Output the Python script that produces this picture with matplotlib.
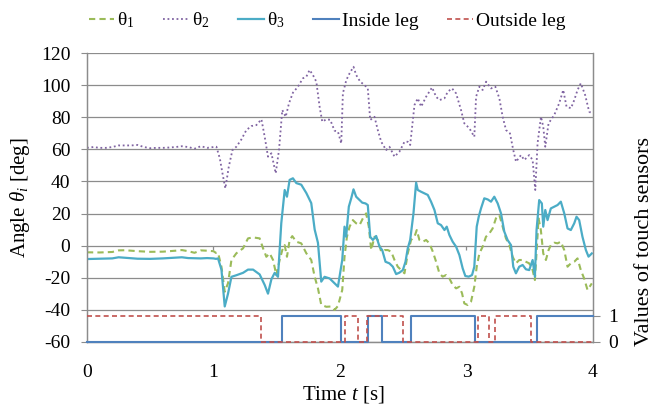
import matplotlib
matplotlib.use("Agg")
import matplotlib.pyplot as plt

plt.rcParams['font.family'] = ['Liberation Serif', 'DejaVu Serif']
plt.rcParams['mathtext.fontset'] = 'custom'
plt.rcParams['mathtext.rm'] = 'Liberation Serif'
plt.rcParams['mathtext.it'] = 'Liberation Serif:italic'
plt.rcParams['axes.unicode_minus'] = False

# Joint angles
t1 = [0, 0.1, 0.2, 0.25, 0.3, 0.35, 0.4, 0.5, 0.6, 0.7, 0.75, 0.8, 0.85, 0.9, 0.95, 1.0, 1.02,
      1.036, 1.063, 1.089, 1.115, 1.142, 1.181, 1.234, 1.273, 1.313, 1.365, 1.392, 1.418, 1.444,
      1.471, 1.497, 1.523, 1.544, 1.563, 1.581, 1.602, 1.623, 1.655, 1.694, 1.734, 1.773, 1.8,
      1.826, 1.852, 1.892, 1.931, 1.957, 1.984, 2.018, 2.036, 2.055, 2.076, 2.102, 2.128, 2.155,
      2.181, 2.207, 2.228, 2.247, 2.273, 2.299, 2.326, 2.352, 2.378, 2.405, 2.431, 2.457, 2.484,
      2.51, 2.536, 2.562, 2.589, 2.607, 2.628, 2.655, 2.681, 2.707, 2.734, 2.76, 2.786, 2.812,
      2.839, 2.865, 2.891, 2.918, 2.944, 2.965, 2.983, 3.01, 3.036, 3.062, 3.081, 3.102, 3.128,
      3.154, 3.181, 3.207, 3.233, 3.26, 3.286, 3.312, 3.339, 3.365, 3.391, 3.417, 3.444, 3.47,
      3.496, 3.523, 3.541, 3.557, 3.57, 3.588, 3.607, 3.628, 3.649, 3.667, 3.694, 3.72, 3.746,
      3.773, 3.799, 3.825, 3.852, 3.878, 3.904, 3.93, 3.957, 3.991]
theta1 = [-4.2, -4.3, -4.0, -3.0, -2.9, -3.2, -3.5, -3.9, -3.8, -3.2, -2.8, -3.5, -4.5, -3.0, -3.2,
          -3.5, -4.6, -4.5, -13.2, -28.8, -23.5, -9, -4.8, -1.7, 4.5, 5.1, 4.5, -1.7, -7, -4.8, -9,
          -18.4, -9, -2.8, 0.3, -7, 3.4, 5.9, 2.4, 1.4, -4.8, -9, -19.5, -26.7, -37, -38.2, -38,
          -40.2, -37.7, -27.7, -7, 5.5, 11.8, 15.9, 13.9, 12.8, 17, 20.1, 11.8, -2.8, 5.5, 3.5,
          -3.8, -2.8, -2.8, -3.8, -9, -13.2, -15.3, -17.3, -4.9, 3.5, 5.5, 9.7, 3.5, 2.4, 3.5, 1.4,
          -3.8, -10.1, -17.3, -19.4, -18.4, -20.5, -24.6, -26.7, -25.7, -29.8, -36.1, -37.1, -35,
          -25.7, -13.2, -4.9, -0.7, 5.5, 7.6, 10.7, 17, 19.1, 11.8, 4.5, 0.3, -7, -11.1, -9, -9,
          -10.1, -11.1, -15.3, -21.5, -0.7, 17, 9.7, -4.9, -9, -2.8, 0.3, 1.8, 1.4, 2.4, -2.8,
          -13.2, -11.1, -10.1, -8, -15.3, -20.5, -27.7, -23.6]

t2 = [0, 0.05, 0.1, 0.15, 0.2, 0.25, 0.3, 0.35, 0.4, 0.45, 0.5, 0.55, 0.6, 0.65, 0.7, 0.75, 0.8,
      0.85, 0.9, 0.95, 1.0, 1.023, 1.05, 1.076, 1.094, 1.121, 1.15, 1.181, 1.221, 1.26, 1.3, 1.339,
      1.379, 1.405, 1.431, 1.458, 1.492, 1.518, 1.544, 1.571, 1.597, 1.628, 1.668, 1.707, 1.734,
      1.76, 1.786, 1.813, 1.839, 1.86, 1.892, 1.923, 1.957, 1.984, 2.01, 2.023, 2.05, 2.076, 2.107,
      2.128, 2.16, 2.194, 2.22, 2.239, 2.273, 2.299, 2.326, 2.365, 2.391, 2.431, 2.47, 2.51, 2.536,
      2.555, 2.589, 2.615, 2.642, 2.681, 2.728, 2.76, 2.786, 2.826, 2.852, 2.886, 2.918, 2.957,
      2.983, 3.023, 3.062, 3.076, 3.102, 3.128, 3.155, 3.194, 3.228, 3.26, 3.286, 3.313, 3.344,
      3.37, 3.392, 3.431, 3.457, 3.496, 3.523, 3.544, 3.562, 3.589, 3.607, 3.623, 3.649, 3.694,
      3.733, 3.765, 3.791, 3.826, 3.852, 3.878, 3.904, 3.938, 3.97, 3.991]
theta2 = [61, 61.5, 61, 61, 61.5, 62.5, 62.5, 62.5, 62.8, 61.5, 60.8, 61, 61, 61.2, 61.5, 62, 61.5,
          60.5, 62, 61, 61.5, 61.7, 54.5, 43, 35.7, 49.2, 59.6, 61.7, 66.3, 72.1, 74.6, 75.2, 78.8,
          67.9, 55.5, 57.6, 45.1, 59.6, 84.6, 80.4, 88.8, 95.4, 99.2, 104.4, 105.4, 109.6, 106.5,
          102.3, 86.7, 77.3, 78.8, 78.5, 71.7, 71.1, 63.8, 95, 103.3, 107.5, 111.6, 106.5, 102.3,
          100.2, 98.1, 78.4, 80.4, 72.1, 64.8, 59.6, 61.7, 55.5, 58.6, 64.8, 64.8, 62.8, 87.7,
          91.9, 86.7, 92.9, 98.7, 92.9, 90.8, 91.9, 96, 98.1, 95, 84.6, 76.3, 73.2, 67.9, 92.9,
          99.2, 97.1, 102.3, 98.1, 99.2, 91.9, 80.4, 72.1, 70, 59.6, 52.3, 56.5, 53.4, 56.5, 53.4,
          34.7, 63.8, 80.4, 74.2, 61.7, 76.3, 81.5, 88.8, 97.1, 86.7, 85.7, 90.8, 97.1, 101.3, 94,
          83.6, 82.5]

t3 = [0, 0.1, 0.2, 0.25, 0.3, 0.4, 0.5, 0.6, 0.7, 0.75, 0.8, 0.9, 0.95, 1.0, 1.02, 1.036, 1.063,
      1.089, 1.115, 1.142, 1.181, 1.234, 1.273, 1.313, 1.365, 1.405, 1.431, 1.458, 1.484, 1.51,
      1.536, 1.563, 1.581, 1.602, 1.628, 1.655, 1.694, 1.734, 1.773, 1.8, 1.826, 1.852, 1.878,
      1.918, 1.957, 1.984, 2.018, 2.036, 2.049, 2.07, 2.089, 2.107, 2.128, 2.155, 2.176, 2.202,
      2.22, 2.239, 2.26, 2.286, 2.313, 2.334, 2.36, 2.391, 2.418, 2.444, 2.47, 2.497, 2.518,
      2.536, 2.555, 2.581, 2.602, 2.615, 2.641, 2.668, 2.694, 2.72, 2.747, 2.773, 2.799, 2.826,
      2.844, 2.865, 2.891, 2.918, 2.944, 2.97, 2.991, 3.018, 3.044, 3.062, 3.081, 3.097, 3.115,
      3.141, 3.168, 3.194, 3.22, 3.247, 3.273, 3.299, 3.325, 3.352, 3.37, 3.391, 3.417, 3.444,
      3.47, 3.496, 3.523, 3.541, 3.554, 3.575, 3.596, 3.607, 3.623, 3.641, 3.667, 3.694, 3.72,
      3.746, 3.773, 3.799, 3.825, 3.852, 3.87, 3.891, 3.917, 3.944, 3.965, 3.991]
theta3 = [-8.4, -8.2, -8.0, -7.3, -7.6, -8.2, -8.3, -8.0, -7.5, -7.3, -7.8, -8.0, -7.8, -8.0, -8.3,
          -8, -15, -38, -30, -19.5, -18.5, -17, -15, -15, -18, -24.6, -30, -21, -17, -19.5, 13.9,
          34.7, 30.5, 41, 42, 39, 38, 32.8, 26.5, 10, 1.7, -22.5, -19.5, -20.5, -23.5, -25.6, -9,
          11.8, 5.5, 24.3, 29.5, 35.1, 30.5, 28.4, 26.8, 26.3, 25.3, 5.5, 3.5, 6, -0.7, -2.8,
          -10.1, -11.1, -13.2, -17.8, -16.9, -15.3, -10.1, -1.7, 3.5, 20.1, 39.3, 34.7, 33.6,
          32.6, 31.6, 27.4, 22.2, 13.9, 12.8, 9.7, 11.8, 6.6, 2.4, -0.7, -5.9, -14.2, -19, -19.4,
          -18.4, -13.2, 11.8, 18, 23.2, 29.5, 28.8, 27.4, 30.5, 26.3, 20.1, 8.7, 3.5, 0.3, -13.2,
          -17.3, -13.2, -12.1, -14.8, -15.3, -9, -19.4, 9.7, 28.4, 26.3, 11.8, 22.2, 15.9, 23.2,
          24.3, 25.3, 27.4, 20.1, 10.7, 9.7, 13.9, 18, 15.9, 5.5, -2.8, -6.9, -4.9]

# Touch sensors (0/1), change points
inside_t = [0, 1.54, 2.01, 2.22, 2.33, 2.56, 3.07, 3.56, 4.0]
inside_v = [0, 1, 0, 1, 0, 1, 0, 1, 1]
outside_t = [0, 1.375, 2.04, 2.14, 2.21, 2.50, 3.09, 3.18, 3.225, 3.51, 4.0]
outside_v = [1, 0, 1, 0, 1, 0, 1, 0, 1, 0, 0]

grid_col = '#8c8c8c'

fig = plt.figure(figsize=(6.67, 4.12), dpi=100)
ax = fig.add_axes([0.1304, 0.1706, 0.7586, 0.7])
ax2 = ax.twinx()

ax.plot(t1, theta1, color='#9BBB59', lw=1.5, ls=(0, (3, 2)), label=r'$\mathrm{θ}_1$', zorder=3)
ax.plot(t2, theta2, color='#8064A2', lw=1.3, ls=(0, (1, 1.5)), label=r'$\mathrm{θ}_2$', zorder=3)
ax.plot(t3, theta3, color='#4BACC6', lw=1.6, label=r'$\mathrm{θ}_3$', zorder=4)

ax2.plot(inside_t, inside_v, color='#4F81BD', lw=1.5, drawstyle='steps-post',
         label='Inside leg', clip_on=False, zorder=3)
ax2.plot(outside_t, outside_v, color='#C0504D', lw=1.2, ls=(0, (3, 2)), drawstyle='steps-post',
         label='Outside leg', clip_on=False, zorder=4)

ax.set_xlim(0, 4)
ax.set_ylim(-60, 120)
ax.set_yticks(range(-60, 121, 20))
ax.set_xticks([0, 1, 2, 3, 4])
ax.grid(axis='y', color=grid_col, lw=0.9)
ax.set_axisbelow(True)
ax.tick_params(axis='y', direction='out', length=4, color=grid_col, labelsize=14, pad=8)
ax.tick_params(axis='x', length=0, labelsize=14, pad=16)

ax2.set_ylim(0, 11.1)
ax2.set_yticks([0, 1])
ax2.tick_params(axis='y', direction='out', length=5, color=grid_col, labelsize=14, pad=6)

for a in (ax, ax2):
    for s in a.spines.values():
        s.set_color(grid_col)
        s.set_linewidth(0.9)
    a.spines['top'].set_visible(False)

# x axis crosses at 0 deg: tick marks only
sec = ax.secondary_xaxis(1 / 3)
sec.set_xticks([0, 1, 2, 3, 4])
sec.set_xticklabels([])
sec.tick_params(direction='out', length=3, color=grid_col, width=0.9)
sec.spines['bottom'].set_visible(False)
sec.spines['top'].set_visible(False)

ax.set_ylabel(r'Angle $\theta_i$ [deg]', fontsize=15)
ax.yaxis.set_label_coords(-0.108, 0.5)
ax.set_xlabel(r'Time $t$ [s]', fontsize=15)
ax.xaxis.set_label_coords(0.506, -0.147)
ax2.set_ylabel('Values of touch sensors', fontsize=16, rotation=90)
ax2.yaxis.set_label_coords(1.083, 0.349)

h1, l1 = ax.get_legend_handles_labels()
h2, l2 = ax2.get_legend_handles_labels()
fig.legend(h1 + h2, l1 + l2, loc='center', bbox_to_anchor=(0.49, 0.95), ncol=5,
           frameon=False, fontsize=14, handlelength=1.3, handletextpad=0.15,
           columnspacing=1.5)

fig.savefig('out.png', dpi=100)
